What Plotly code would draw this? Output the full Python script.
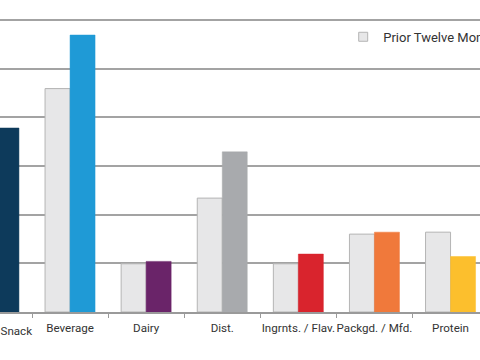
import plotly.graph_objects as go

categories = ["Bakery / Snack", "Beverage", "Dairy", "Dist.", "Ingrnts. / Flav.", "Packgd. / Mfd.", "Protein"]
prior_values = [3.5, 4.59, 0.99, 2.34, 0.99, 1.60, 1.64]
current_values = [3.78, 5.69, 1.04, 3.29, 1.19, 1.64, 1.14]
current_colors = ["#0d3a5b", "#1f9ad6", "#6a2469", "#a8aaad", "#d9242d", "#f0793b", "#fcbf2d"]
legend_label = "Prior Twelve Months"

X_RANGE = [0.0795, 6.387]
Y_RANGE = [0, 6.41]
LABEL_FONT = dict(family="Roboto", size=11.6, color="#333333")

fig = go.Figure()
fig.add_trace(go.Bar(
    x=categories, y=prior_values, name=legend_label, showlegend=False,
    marker=dict(color="#e7e7e8", line=dict(color="#b4b4b4", width=1)),
))
fig.add_trace(go.Bar(
    x=categories, y=current_values, name="Current Twelve Months", showlegend=False,
    marker=dict(color=current_colors, line=dict(color=current_colors, width=0.5)),
))
# legend entry with a small square symbol
fig.add_trace(go.Scatter(
    x=[None], y=[None], mode="markers", name=legend_label,
    marker=dict(symbol="square", size=9, color="#e7e7e8", line=dict(color="#b4b4b4", width=1)),
))

# first category label sits partly outside the plot area, so place it via paper coords
frac0 = (0 - X_RANGE[0]) / (X_RANGE[1] - X_RANGE[0])
fig.add_annotation(
    text=categories[0], xref="paper", yref="paper", x=frac0, y=0,
    xanchor="center", yanchor="top", yshift=-10, showarrow=False,
    font=LABEL_FONT,
)

fig.update_layout(
    width=480, height=360,
    margin=dict(l=0, r=0, t=0, b=48, autoexpand=False),
    paper_bgcolor="white", plot_bgcolor="white",
    barmode="group", bargap=0.343, bargroupgap=0.0,
    font=dict(family="Roboto", size=12, color="#333333"),
    legend=dict(
        x=0.715, y=0.882, xanchor="left", yanchor="middle",
        font=dict(size=13, color="#333333"), bgcolor="rgba(0,0,0,0)",
        itemwidth=30,
    ),
    xaxis=dict(
        type="category", range=X_RANGE, tickson="boundaries", tickangle=0,
        ticks="outside", ticklen=4, tickcolor="#9a9a9a", tickwidth=1,
        ticklabelstandoff=4,
        showgrid=False, showline=True, linecolor="#9a9a9a", linewidth=1.5,
        tickfont=LABEL_FONT,
    ),
    yaxis=dict(
        range=Y_RANGE, dtick=1, showticklabels=False, ticks="",
        showgrid=True, gridcolor="#a3a3a3", gridwidth=1.5,
        zeroline=False, showline=False,
    ),
)

fig.write_html(
    "out.html",
    config={"displayModeBar": False},
    post_script="document.body.style.margin='0';document.body.style.overflow='hidden';",
)
